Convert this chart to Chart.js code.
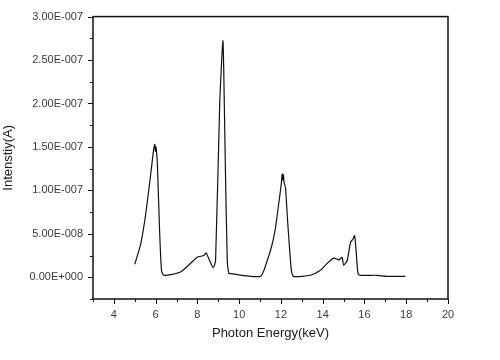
<!DOCTYPE html>
<html>
<head>
<meta charset="utf-8">
<script src="https://cdn.jsdelivr.net/npm/chart.js@4/dist/chart.umd.min.js"></script>
<style>
  html, body { margin: 0; padding: 0; background: #fff; }
  #wrap { width: 500px; height: 360px; }
</style>
</head>
<body>
<div id="wrap"><canvas id="c" width="500" height="360"></canvas></div>
<script>
// spectrum, energy in keV, intensity in A
const energy = [5.0, 5.28, 5.52, 5.76, 5.91, 5.96, 5.99, 6.02, 6.05, 6.08, 6.19, 6.28, 6.39,
  7.19, 7.99, 8.31, 8.42, 8.55, 8.76, 8.87, 9.07, 9.22, 9.26, 9.34, 9.43, 9.5, 9.58,
  11.02, 11.34, 11.58, 11.74, 11.89, 12.01, 12.06, 12.09, 12.12, 12.15, 12.22, 12.3, 12.41, 12.5, 12.61,
  13.41, 13.89, 14.21, 14.53, 14.77, 14.93, 15.0, 15.17, 15.33, 15.45, 15.53, 15.61, 15.69, 15.8,
  16.6, 17.08, 17.96];
const intensity = [1.5e-8, 3.8e-8, 7.2e-8, 1.18e-7, 1.48e-7, 1.53e-7, 1.45e-7, 1.50e-7, 1.42e-7, 1.33e-7, 5.3e-8, 8e-9, 2.3e-9,
  6e-9, 2.3e-8, 2.5e-8, 2.8e-8, 2.1e-8, 1.1e-8, 1.9e-8, 2.01e-7, 2.72e-7, 2.39e-7, 1.25e-7, 1.9e-8, 4.9e-9, 4.2e-9,
  1.1e-9, 1.9e-8, 3.8e-8, 5.7e-8, 8.4e-8, 1.06e-7, 1.19e-7, 1.12e-7, 1.18e-7, 1.09e-7, 1.03e-7, 7.2e-8, 3.4e-8, 8e-9, 1.1e-9,
  2.3e-9, 8e-9, 1.6e-8, 2.2e-8, 2.0e-8, 2.3e-8, 1.4e-8, 1.9e-8, 4.0e-8, 4.4e-8, 4.8e-8, 2.7e-8, 4.2e-9, 2.3e-9,
  2.3e-9, 1.1e-9, 1.1e-9];

const xTicks = [4, 6, 8, 10, 12, 14, 16, 18, 20];
const yTicks = [0, 5e-8, 1e-7, 1.5e-7, 2e-7, 2.5e-7, 3e-7];

const cline = "#111111";
const ctext = "#3a3a3a";

// Origin style scientific labels, e.g. 3.00E-007
function sci(v) {
  if (v === 0) return "0.00E+000";
  let e = Math.floor(Math.log10(Math.abs(v)) + 1e-9);
  let m = v / Math.pow(10, e);
  let s = e < 0 ? "-" : "+";
  return m.toFixed(2) + "E" + s + String(Math.abs(e)).padStart(3, "0");
}

// frame plus major/minor tick marks, pointing outwards
const frame = {
  id: "frame",
  afterDraw(chart) {
    const { ctx, chartArea: a, scales } = chart;
    ctx.save();
    ctx.strokeStyle = cline;
    ctx.lineWidth = 1.5;
    ctx.strokeRect(a.left, a.top, a.right - a.left, a.bottom - a.top);
    ctx.lineWidth = 1;
    ctx.beginPath();
    for (let v = 3; v <= 20; v++) {
      const px = Math.round(scales.x.getPixelForValue(v)) + 0.5;
      const len = v % 2 === 0 ? 5 : 3;
      ctx.moveTo(px, a.bottom);
      ctx.lineTo(px, a.bottom + len);
    }
    for (let i = -1; i <= 12; i++) {
      const v = i * 2.5e-8;
      const py = Math.round(scales.y.getPixelForValue(v)) + 0.5;
      const len = i % 2 === 0 ? 5 : 3;
      ctx.moveTo(a.left, py);
      ctx.lineTo(a.left - len, py);
    }
    ctx.stroke();
    ctx.restore();
  }
};

new Chart(document.getElementById("c"), {
  type: "scatter",
  data: {
    datasets: [{
      data: energy.map((e, i) => ({ x: e, y: intensity[i] })),
      showLine: true,
      borderColor: cline,
      borderWidth: 1.2,
      pointRadius: 0,
      tension: 0.2
    }]
  },
  options: {
    responsive: false,
    animation: false,
    layout: { padding: { top: 13, right: 52, bottom: 0, left: 0 } },
    plugins: { legend: { display: false }, tooltip: { enabled: false } },
    scales: {
      x: {
        type: "linear",
        min: 3,
        max: 20,
        afterBuildTicks: s => { s.ticks = xTicks.map(v => ({ value: v })); },
        afterFit: s => { s.height = 61; },
        grid: { display: false, drawTicks: false },
        border: { display: false },
        ticks: { color: ctext, padding: 9, font: { family: "Liberation Sans", size: 11 } },
        title: {
          display: true,
          text: "Photon Energy(keV)",
          color: "#1a1a1a",
          padding: { top: 0, bottom: 19 },
          font: { family: "Liberation Sans", size: 13 }
        }
      },
      y: {
        type: "linear",
        min: -2.5e-8,
        max: 3e-7,
        afterBuildTicks: s => { s.ticks = yTicks.map(v => ({ value: v })); },
        afterFit: s => { s.width = 93; },
        grid: { display: false, drawTicks: false },
        border: { display: false },
        ticks: { color: ctext, padding: 10, callback: v => sci(v), font: { family: "Liberation Sans", size: 11 } },
        title: {
          display: true,
          text: "Intenstiy(A)",
          color: "#1a1a1a",
          padding: { top: 1, bottom: 0 },
          font: { family: "Liberation Sans", size: 13 }
        }
      }
    }
  },
  plugins: [frame]
});
</script>
</body>
</html>
